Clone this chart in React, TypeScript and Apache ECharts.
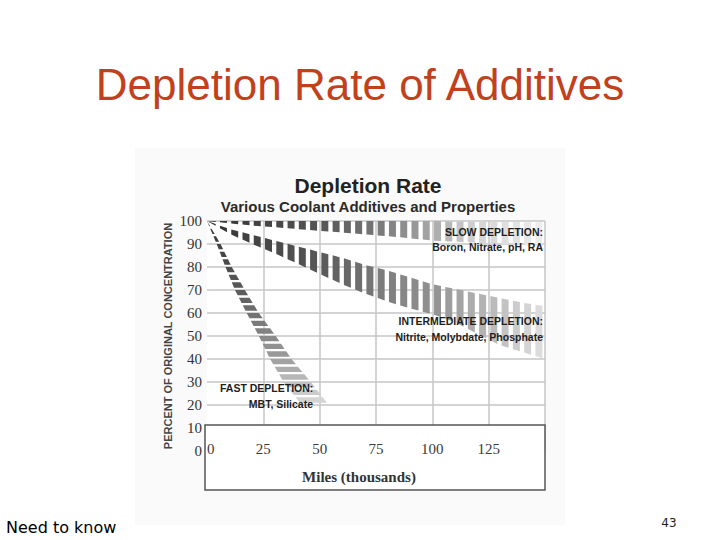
import React, { useEffect, useRef } from "react";
import * as echarts from "echarts";

// ---- data ----
const miles = [0, 10, 20, 30, 40, 50, 60, 70, 80, 90, 100, 110, 120, 130, 140, 150];
const slowTop = [100, 100, 100, 100, 100, 100, 100, 100, 100, 100, 100, 99.8, 99.7, 99.6, 99.5, 99.4];
const slowBottom = [100, 99, 98, 97.3, 96.5, 95.7, 95, 94.2, 93.4, 92.5, 91.5, 91, 90.5, 90, 89.5, 89];
const interTop = [100, 96.5, 94, 91.5, 89, 86.5, 84, 81, 78.5, 75.5, 72.5, 70.5, 68.5, 66.5, 64.5, 63];
const interBottom = [100, 94.5, 90, 86, 81.5, 77, 72.5, 68.5, 65, 62, 59.5, 56, 51, 46, 43, 40];
const fastLevels = [100, 90, 80, 70, 60, 50, 40, 30, 20];
const fastLeft = [0, 4.3, 8.2, 12.4, 17.6, 23, 28, 34, 42];
const fastRight = [0, 6, 11, 16.8, 23, 30.5, 37.5, 46, 54];
const xTickLabels = ["0", "25", "50", "75", "100", "125", ""];
const yTickLabels = ["0", "10", "20", "30", "40", "50", "60", "70", "80", "90", "100"];

// ---- styles ----
const slowShade: number[][] = [[0, 51], [26, 68], [50, 85], [75, 119], [93, 153], [100, 170], [120, 212], [150, 238]];
const interShade: number[][] = [[0, 51], [50, 88], [78, 125], [100, 146], [125, 183], [150, 225]];
const fastShade: number[][] = [[100, 51], [70, 90], [50, 135], [40, 158], [30, 190], [20, 218]];

function shadeAt(stops: number[][], v: number, desc = false) {
  const s = desc ? stops.map((p) => [-p[0], p[1]]) : stops;
  const x = desc ? -v : v;
  let g = s[s.length - 1][1];
  if (x <= s[0][0]) g = s[0][1];
  for (let i = 0; i < s.length - 1; i++) {
    if (x >= s[i][0] && x <= s[i + 1][0]) {
      const f = (x - s[i][0]) / (s[i + 1][0] - s[i][0]);
      g = s[i][1] + (s[i + 1][1] - s[i][1]) * f;
    }
  }
  const c = Math.round(g);
  return `rgb(${c},${c},${c})`;
}

function verticalBand(name: string, top: number[], bottom: number[], stops: number[][]) {
  const data: number[][] = [];
  for (let i = 0; i < miles.length - 1; i++) {
    data.push([miles[i], miles[i + 1], top[i], bottom[i], top[i + 1], bottom[i + 1]]);
  }
  const stripes = 2;
  const fill = 0.62;
  return {
    name,
    type: "custom",
    coordinateSystem: "cartesian2d",
    xAxisIndex: 0,
    yAxisIndex: 0,
    z: 2,
    data,
    encode: { x: [0, 1], y: [2, 3, 4, 5] },
    renderItem: (params: any, api: any) => {
      const x0 = api.value(0), x1 = api.value(1);
      const t0 = api.value(2), b0 = api.value(3), t1 = api.value(4), b1 = api.value(5);
      const children: any[] = [];
      for (let k = 0; k < stripes; k++) {
        const fa = (k + 0.15) / stripes, fb = (k + 0.15 + fill) / stripes;
        const xa = x0 + (x1 - x0) * fa, xb = x0 + (x1 - x0) * fb;
        const ta = t0 + (t1 - t0) * fa, tb = t0 + (t1 - t0) * fb;
        const ba = b0 + (b1 - b0) * fa, bb = b0 + (b1 - b0) * fb;
        const pts = [api.coord([xa, ta]), api.coord([xb, tb]), api.coord([xb, bb]), api.coord([xa, ba])];
        children.push({
          type: "polygon",
          shape: { points: pts },
          style: { fill: shadeAt(stops, (xa + xb) / 2) },
        });
      }
      return { type: "group", children };
    },
  };
}

function fastBand() {
  const data: number[][] = [];
  for (let i = 0; i < fastLevels.length - 1; i++) {
    data.push([fastLeft[i], fastRight[i], fastLevels[i], fastLeft[i + 1], fastRight[i + 1], fastLevels[i + 1]]);
  }
  const stripes = 3;
  const fill = 0.7;
  return {
    name: "Fast depletion",
    type: "custom",
    coordinateSystem: "cartesian2d",
    xAxisIndex: 0,
    yAxisIndex: 0,
    z: 2,
    data,
    encode: { x: [0, 1, 3, 4], y: [2, 5] },
    renderItem: (params: any, api: any) => {
      const l0 = api.value(0), r0 = api.value(1), v0 = api.value(2);
      const l1 = api.value(3), r1 = api.value(4), v1 = api.value(5);
      const children: any[] = [];
      for (let k = 0; k < stripes; k++) {
        const fa = k / stripes, fb = (k + fill) / stripes;
        const la = l0 + (l1 - l0) * fa, lb = l0 + (l1 - l0) * fb;
        const ra = r0 + (r1 - r0) * fa, rb = r0 + (r1 - r0) * fb;
        const va = v0 + (v1 - v0) * fa, vb = v0 + (v1 - v0) * fb;
        const pts = [api.coord([la, va]), api.coord([ra, va]), api.coord([rb, vb]), api.coord([lb, vb])];
        children.push({
          type: "polygon",
          shape: { points: pts },
          style: { fill: shadeAt(fastShade, (va + vb) / 2, true) },
        });
      }
      return { type: "group", children };
    },
  };
}

const SANS = "'Liberation Sans', Arial, sans-serif";
const SERIF = "'Liberation Serif', 'DejaVu Serif', serif";

function txt(text: string, x: number, y: number, opts: any = {}) {
  return {
    type: "text",
    x,
    y,
    z: opts.z ?? 30,
    style: {
      text,
      fill: opts.fill ?? "#222",
      fontSize: opts.fontSize ?? 12,
      fontFamily: opts.fontFamily ?? SANS,
      fontWeight: opts.fontWeight ?? "normal",
      align: opts.align ?? "left",
      verticalAlign: "middle",
    },
  };
}

const LBL = { fontSize: 10.5, fontWeight: "bold", fill: "#1e1e1e" };

export default function App() {
  const ref = useRef<HTMLDivElement>(null);
  useEffect(() => {
    if (!ref.current) return;
    const chart = echarts.init(ref.current, undefined, { renderer: "svg" });
    const gridColor = "#c6c6c6";
    chart.setOption({
      animation: false,
      backgroundColor: "#ffffff",
      grid: { left: 207, right: 175, top: 221, bottom: 89, containLabel: false },
      xAxis: [
        {
          type: "value",
          min: 0,
          max: 150,
          interval: 25,
          position: "bottom",
          z: 20,
          axisLine: { show: false },
          axisTick: { show: false },
          splitLine: { show: false },
          axisLabel: {
            margin: -10,
            fontSize: 15,
            fontFamily: SERIF,
            color: "#3a3a3a",
            alignMinLabel: "left",
            showMaxLabel: false,
            formatter: (v: number) => xTickLabels[Math.round(v / 25)] ?? "",
          },
          name: "Miles (thousands)",
          nameLocation: "middle",
          nameGap: 18,
          nameTextStyle: {
            fontSize: 15,
            fontWeight: "bold",
            fontFamily: SERIF,
            color: "#333",
            padding: [0, 34, 0, 0],
          },
        },
        {
          type: "value",
          min: 0,
          max: 150,
          interval: 25,
          position: "top",
          z: 0,
          axisLine: { show: false },
          axisTick: { show: false },
          axisLabel: { show: false },
          splitLine: {
            show: true,
            lineStyle: {
              width: 1.5,
              color: ["rgba(0,0,0,0)", gridColor, gridColor, gridColor, gridColor, gridColor, gridColor],
            },
          },
        },
      ],
      yAxis: {
        type: "value",
        min: 0,
        max: 100,
        interval: 10,
        z: 0,
        axisLine: { show: false },
        axisTick: { show: false },
        splitLine: { show: true, lineStyle: { width: 1.5, color: gridColor } },
        axisLabel: {
          margin: 5,
          fontSize: 15,
          fontFamily: SERIF,
          color: "#333",
          formatter: (v: number) => yTickLabels[Math.round(v / 10)] ?? "",
        },
        name: "PERCENT OF ORIGINAL CONCENTRATION",
        nameLocation: "middle",
        nameGap: 34,
        nameTextStyle: { fontSize: 11, fontWeight: "bold", fontFamily: SANS, color: "#444" },
      },
      series: [
        verticalBand("Slow depletion", slowTop, slowBottom, slowShade),
        verticalBand("Intermediate depletion", interTop, interBottom, interShade),
        fastBand(),
      ],
      graphic: [
        { type: "rect", z: -20, shape: { x: 135, y: 148, width: 430, height: 377 }, style: { fill: "#fafafa" } },
        { type: "rect", z: -19, shape: { x: 207, y: 221, width: 338, height: 205 }, style: { fill: "#ffffff" } },
        {
          type: "rect",
          z: 10,
          shape: { x: 205, y: 425, width: 340, height: 65 },
          style: { fill: "#ffffff", stroke: "#555", lineWidth: 1.5 },
        },
        txt("Depletion Rate of Additives", 360, 84, { fontSize: 44, fill: "#c0411c", align: "center" }),
        txt("Depletion Rate", 368, 185, { fontSize: 21, fontWeight: "bold", align: "center", fill: "#222" }),
        txt("Various Coolant Additives and Properties", 368, 206, { fontSize: 15, fontWeight: "bold", align: "center", fill: "#2a2a2a" }),
        txt("SLOW DEPLETION:", 543, 232, { ...LBL, align: "right" }),
        txt("Boron, Nitrate, pH, RA", 543, 247, { ...LBL, align: "right" }),
        txt("INTERMEDIATE DEPLETION:", 543, 321, { ...LBL, align: "right" }),
        txt("Nitrite, Molybdate, Phosphate", 543, 337, { ...LBL, align: "right" }),
        txt("FAST DEPLETION:", 220, 388, { ...LBL }),
        txt("MBT, Silicate", 313, 404, { ...LBL, align: "right" }),
        txt("Need to know", 6, 527, { fontSize: 16, fontFamily: "'DejaVu Sans', sans-serif", fill: "#000" }),
        txt("43", 669, 523, { fontSize: 12, fontFamily: "'DejaVu Sans', sans-serif", fill: "#222", align: "center" }),
      ],
    });
    return () => chart.dispose();
  }, []);
  return (
    <div
      ref={ref}
      style={{ position: "fixed", left: 0, top: 0, width: 720, height: 540, background: "#fff" }}
    />
  );
}
